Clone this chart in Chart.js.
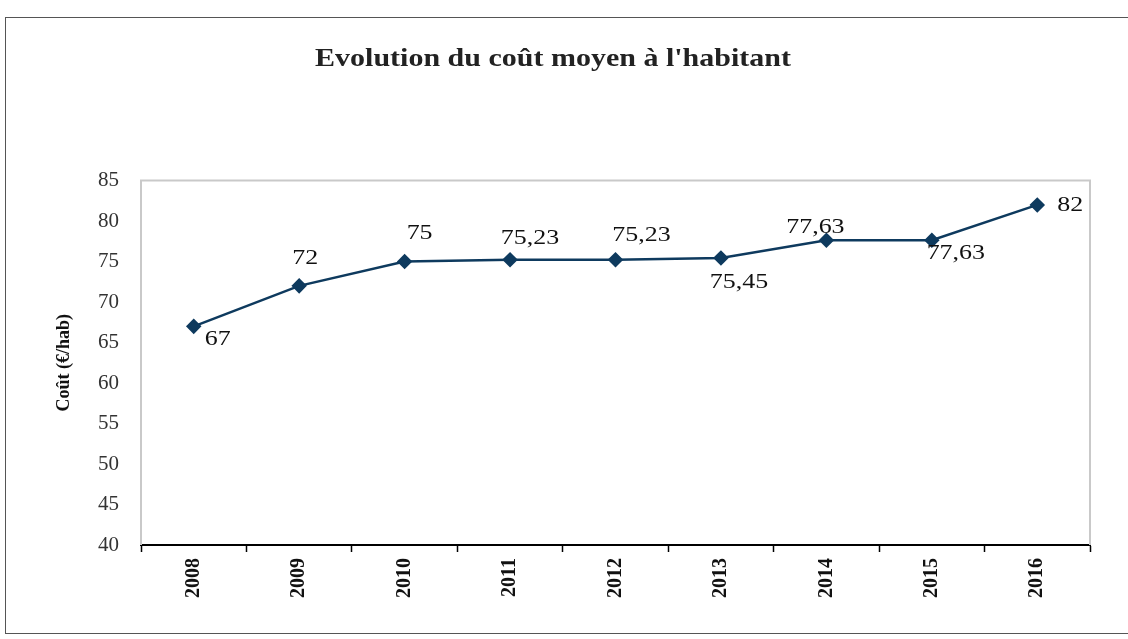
<!DOCTYPE html>
<html>
<head>
<meta charset="utf-8">
<script src="https://cdn.jsdelivr.net/npm/chart.js@4/dist/chart.umd.min.js"></script>
<style>
  html, body { margin: 0; padding: 0; background: #fff; }
  #wrap { position: relative; width: 1128px; height: 639px; }
  #frame { position: absolute; left: 5px; top: 17px; width: 1130px; height: 617px; border: 1px solid #555; box-sizing: border-box; pointer-events: none; }
  canvas { position: absolute; left: 0; top: 0; }
</style>
</head>
<body>
<div id="wrap">
  <canvas id="c" width="1128" height="639"></canvas>
  <div id="frame"></div>
</div>
<script>
const years = ['2008', '2009', '2010', '2011', '2012', '2013', '2014', '2015', '2016'];
const costPerInhabitant = [67, 72, 75, 75.23, 75.23, 75.45, 77.63, 77.63, 82];
const yTickMin = 40, yTickMax = 85, yTickStep = 5;
const chartTitle = "Evolution du coût moyen à l'habitant";
const yAxisTitle = 'Coût (€/hab)';

// label placement offsets (style only, in pixels relative to each point)
const labelOffsets = [[24, 13], [6, -28], [15, -28], [20, -21], [26, -24], [18, 24], [-11, -13], [24, 13], [33, 0]];

const SERIF = '"Liberation Serif", "Times New Roman", serif';
const LINE = '#0e3a5e';

function stretchedText(ctx, txt, x, y, sx) {
  ctx.save();
  ctx.translate(x, y);
  ctx.scale(sx, 1);
  ctx.fillText(txt, 0, 0);
  ctx.restore();
}

const plotFrame = {
  id: 'plotFrame',
  beforeDatasetsDraw(chart) {
    const { ctx, chartArea: a } = chart;
    ctx.save();
    ctx.strokeStyle = '#c9c9c9';
    ctx.lineWidth = 2;
    ctx.beginPath();
    ctx.moveTo(a.left, a.bottom);
    ctx.lineTo(a.left, a.top);
    ctx.lineTo(a.right, a.top);
    ctx.lineTo(a.right, a.bottom);
    ctx.stroke();
    ctx.restore();
  }
};

const stretchedTitle = {
  id: 'stretchedTitle',
  afterDraw(chart) {
    const { ctx } = chart;
    ctx.save();
    ctx.font = 'bold 25px ' + SERIF;
    ctx.fillStyle = '#222';
    ctx.textAlign = 'center';
    ctx.textBaseline = 'middle';
    stretchedText(ctx, chartTitle, 553, 60, 1.2);
    ctx.restore();
  }
};

const valueLabels = {
  id: 'valueLabels',
  afterDatasetsDraw(chart) {
    const { ctx } = chart;
    const meta = chart.getDatasetMeta(0);
    ctx.save();
    ctx.font = '22px ' + SERIF;
    ctx.fillStyle = '#111';
    ctx.textAlign = 'center';
    ctx.textBaseline = 'middle';
    meta.data.forEach((pt, i) => {
      const v = chart.data.datasets[0].data[i];
      const txt = String(v).replace('.', ',');
      const off = labelOffsets[i];
      stretchedText(ctx, txt, pt.x + off[0], pt.y + off[1], 1.18);
    });
    ctx.restore();
  }
};

new Chart(document.getElementById('c'), {
  type: 'line',
  data: {
    labels: years,
    datasets: [{
      data: costPerInhabitant,
      borderColor: LINE,
      backgroundColor: LINE,
      borderWidth: 2.5,
      pointStyle: 'rectRot',
      pointRadius: 6,
      pointHoverRadius: 6,
      pointBackgroundColor: LINE,
      pointBorderColor: LINE,
      tension: 0,
      clip: false
    }]
  },
  options: {
    responsive: false,
    animation: false,
    devicePixelRatio: 1,
    layout: { padding: { left: 50, right: 38, top: 0, bottom: 0 } },
    plugins: {
      legend: { display: false },
      tooltip: { enabled: false },
      title: {
        display: true,
        text: chartTitle,
        color: 'rgba(0,0,0,0)',
        font: { family: SERIF, size: 23, weight: 'bold', lineHeight: 1.2 },
        padding: { top: 46, bottom: 107 }
      }
    },
    scales: {
      x: {
        offset: true,
        grid: { display: true, offset: true, drawOnChartArea: false, drawTicks: true, tickLength: 7, color: '#000', tickWidth: 1.5 },
        border: { display: true, color: '#000', width: 2 },
        ticks: {
          color: '#111',
          font: { family: SERIF, size: 20, weight: 'bold' },
          minRotation: 90, maxRotation: 90,
          padding: 6
        },
        afterFit(scale) { scale.height = 94; }
      },
      y: {
        min: yTickMin,
        max: yTickMax,
        grid: { display: false, drawTicks: false },
        border: { display: false },
        ticks: {
          stepSize: yTickStep,
          color: '#333',
          font: { family: SERIF, size: 21 },
          padding: 22
        },
        title: {
          display: true,
          text: yAxisTitle,
          color: '#111',
          font: { family: SERIF, size: 18, weight: 'bold' },
          padding: { top: 4, bottom: 4 }
        },
        afterFit(scale) { scale.width = 91; }
      }
    }
  },
  plugins: [plotFrame, valueLabels, stretchedTitle]
});
</script>
</body>
</html>
